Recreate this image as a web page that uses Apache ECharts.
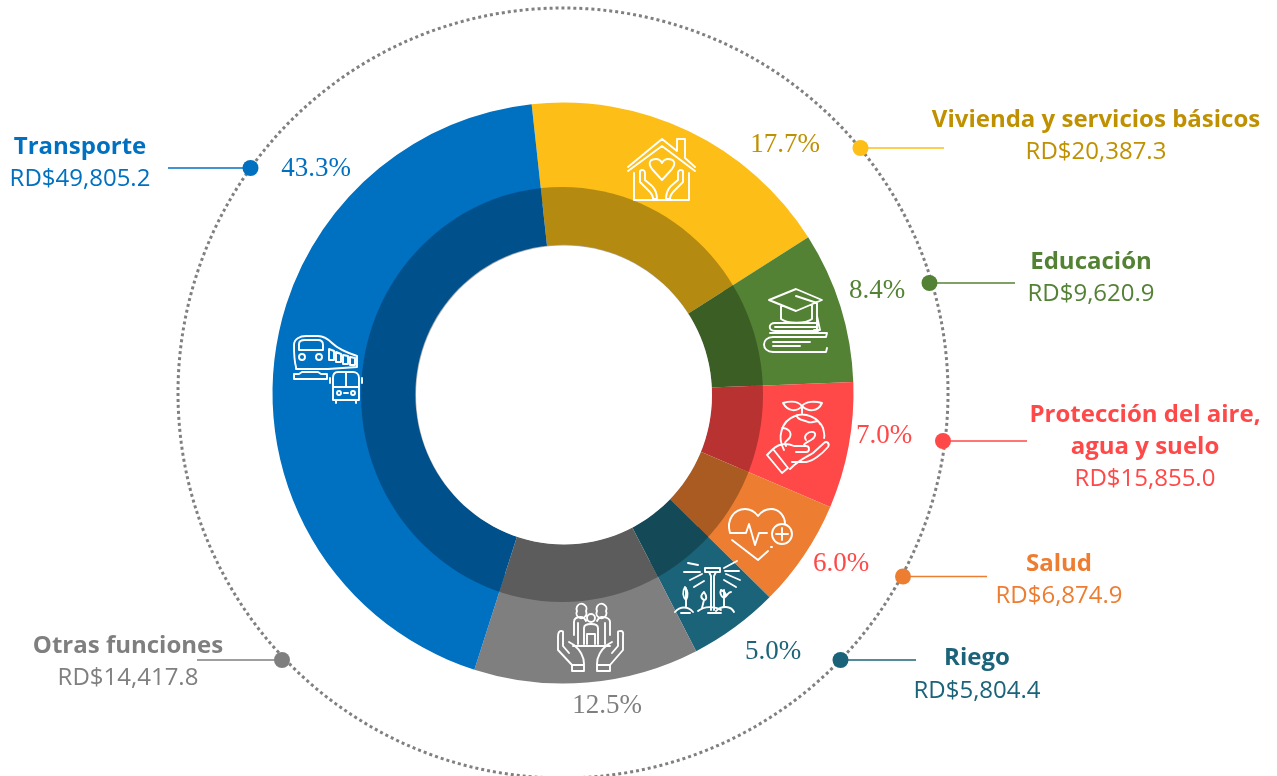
<!DOCTYPE html>
<html>
<head>
<meta charset="utf-8">
<title>Gasto por función</title>
<style>
html,body{margin:0;padding:0;background:#fff;}
#chart{width:1277px;height:776px;}
</style>
<script src="https://cdn.jsdelivr.net/npm/echarts@6/dist/echarts.min.js"></script>
</head>
<body>
<div id="chart"></div>
<script>
// datos, en el orden de las agujas del reloj
var categories = ['Vivienda y servicios básicos', 'Educación', 'Protección del aire,\nagua y suelo', 'Salud', 'Riego', 'Otras funciones', 'Transporte'];
var shares = [17.7, 8.4, 7.0, 6.0, 5.0, 12.5, 43.3];
var amounts = [20387.3, 9620.9, 15855.0, 6874.9, 5804.4, 14417.8, 49805.2];

var sliceColors = ['#FDBE18', '#548235', '#FF4848', '#ED7D31', '#1B6379', '#7F7F7F', '#0070C0'];
var innerColors = ['#B58A10', '#3B5E25', '#B83232', '#AA5B22', '#144957', '#5C5C5C', '#00508C'];
var textColors = ['#BF9000', '#548235', '#FF4848', '#ED7D31', '#1B6379', '#7F7F7F', '#0070C0'];
var shareColors = ['#BF9000', '#548235', '#FF4848', '#FF4848', '#1B6379', '#7F7F7F', '#0070C0'];

var cx = 563, cy = 393, startDeg = 96.2;

// posiciones de los textos y lineas guia
var sharePos = [[785, 145], [877, 291], [884, 436], [841, 564], [773, 652], [607, 706], [316, 169]];
var namePos = [[1096, 120], [1091, 262], [1145, 431], [1059, 564], [977, 658], [128, 646], [80, 147]];
var amountPos = [[1096, 152], [1091, 294], [1145, 479], [1059, 596], [977, 691], [128, 678], [80, 179]];
var leaders = [[861, 944, 148, 860.5], [930, 1015, 283, 929.5], [943, 1027, 441, 943], [903, 987, 576.5, 903], [841, 916, 660, 840.5], [197, 282, 660, 282], [168, 251, 168, 250.5]];

// iconos de linea, coordenadas de pagina
var icons = [
    // casa con manos
    'M628 167L662 139L677 151V139H685V158L695 167M628 171L662 146L695 171M634 173V200H689V173' +
    'M662 180L652 169C647 162 651 159 656 159C659 159 661 161 662 163C663 161 665 159 668 159C673 159 677 162 672 169Z' +
    'M640 171C642 169 645 170 645 173V180L652 186C656 190 657 193 657 199H653C653 195 651 193 649 191L640 182ZM683 171C681 169 678 170 678 173V180L671 186C667 190 666 193 666 199H670C670 195 672 193 674 191L683 182Z',
    // birrete y libros
    'M769 300L796 289L822 300L796 311ZM781 305V319C788 324 805 324 812 319V305M796 296L817 303V316M817 316V330M814 330H820L817 316' +
    'M818 323H775C768 323 768 331 775 331H818M775 327H816M770 333H827L826 337H773C761 337 761 352 773 352H826L827 348M773 342H810M773 346H800',
    // mano y planeta
    'M802 413V406M802 406C798 401 790 401 783 403C788 412 797 412 802 406ZM802 406C806 401 815 401 822 403C818 412 808 412 802 406' +
    'M784 450C777 438 781 421 795 416C805 412 818 417 823 428C824 432 825 436 824 438M797 415C796 420 805 420 808 422C813 424 818 418 820 424' +
    'M782 428C788 428 792 432 790 437C788 441 783 441 786 446M806 440C803 436 808 431 813 432C817 433 815 438 811 440C806 443 803 444 804 446' +
    'M767 455L773 449L788 468L782 473ZM772 450C779 443 787 443 794 446H806C810 446 810 452 806 452H796M790 469C800 459 807 457 813 453L824 443C827 440 830 444 828 447C822 454 813 461 806 462H792',
    // corazon con pulso
    'M730 533C726 520 734 509 745 509C751 509 755 512 758 516C761 512 765 509 771 509C779 509 785 516 785 524M732 540L758 560L768 551' +
    'M730 533H746L749 524L755 545L759 533H767M772 534A10 10 0 1 0 792 534A10 10 0 1 0 772 534M782 528V540M776 534H788M771 547H772',
    // aspersor y plantas
    'M705 568H720V572H705ZM709 572L711 576V610M714 576V610M716 572L714 576' +
    'M688 563L698 565M684 572H700M690 580L702 574M694 587L704 581M737 561L724 568M739 571H725M740 580L726 574M736 587L724 580' +
    'M675 612C680 606 688 606 693 612M698 611C704 606 715 606 721 610M716 611C722 605 731 606 734 612M686 607V588M686 600C683 597 682 592 685 587C688 591 688 596 686 600M702 608L704 600C699 597 702 594 704 592C707 596 707 600 704 600M724 607V590M724 598C720 596 720 592 721 590C726 592 727 595 724 598M724 598C728 595 728 592 731 592M681 613H690M708 613H721',
    // familia y manos
    'M577 611A5 5 0 1 0 586 611A5 5 0 1 0 577 611M597 611A5 5 0 1 0 606 611A5 5 0 1 0 597 611M587 618A4 4 0 1 0 595 618A4 4 0 1 0 587 618' +
    'M574 635V622C574 618 578 617 581 617C584 617 585 619 586 621M610 635V622C610 618 605 617 602 617C599 617 598 619 597 621M578 623V644M605 623V644' +
    'M584 644V628C584 625 588 624 591 624C595 624 598 625 598 628V644M587 644V634H595V644M573 646H610' +
    'M561 631C558 631 558 635 558 637V650L572 665V671H584V664C584 656 580 650 574 645L569 642M569 653L563 646V632C563 631 561 631 561 631' +
    'M621 631C624 631 623 635 623 637V650L610 665V671H597V664C597 656 601 650 607 645L612 642M612 653L618 646V632C618 631 621 631 621 631M572 665H584M597 665H610',
    // tren y autobus
    'M296 367C294 360 294 352 294 345C294 339 300 336 306 336H318C324 336 328 339 332 343C338 349 348 353 357 356V367L328 369H296Z' +
    'M299 350V344C299 341 302 340 305 340H318C322 340 323 342 323 345V350ZM299 350H323' +
    'M299 357A3 3 0 1 0 305 357A3 3 0 1 0 299 357M316 357A3 3 0 1 0 322 357A3 3 0 1 0 316 357' +
    'M329 349V360H334V351ZM336 352V362H341V354ZM343 355V364H348V356ZM350 357V365H355V358Z' +
    'M294 379V374H299L302 372H318L321 374H327V379Z' +
    'M333 378C333 374 335 372 338 372H353C356 372 359 374 359 378V400H333ZM346 372V387M333 387H359M336 400V403M356 400V403M330 378V383M362 378V383' +
    'M337 393A2 2 0 1 0 341 393A2 2 0 1 0 337 393M351 393A2 2 0 1 0 355 393A2 2 0 1 0 351 393M344 393H348'
];

function money(v) {
    return 'RD$' + v.toLocaleString('en-US', { minimumFractionDigits: 1, maximumFractionDigits: 1 });
}

var total = shares.reduce(function (a, b) { return a + b; }, 0);

// el anillo oscuro no es un circulo exacto: sectores recortados por una elipse
function renderInner(params, api) {
    var before = 0;
    for (var i = 0; i < params.dataIndex; i++) before += shares[i];
    var a0 = -startDeg * Math.PI / 180 + before / total * Math.PI * 2;
    var a1 = a0 + api.value(0) / total * Math.PI * 2;
    return {
        type: 'sector',
        shape: { cx: cx, cy: cy, r: 270, r0: 100, startAngle: a0, endAngle: a1, clockwise: true },
        style: { fill: innerColors[params.dataIndex] },
        clipPath: { type: 'ellipse', shape: { cx: 562, cy: 394.5, rx: 201, ry: 207.5 } }
    };
}

var elements = [];

// circulo punteado exterior
elements.push({
    type: 'circle', z: 1, silent: true,
    shape: { cx: cx, cy: cy, r: 385 },
    style: { fill: null, stroke: '#808080', lineWidth: 3, lineDash: [3, 3] }
});
// hueco central con su borde gris
elements.push({
    type: 'ellipse', z: 50, silent: true,
    shape: { cx: 563.6, cy: 394.5, rx: 148.3, ry: 149.8 },
    style: { fill: '#AAAAAA' }
});
elements.push({
    type: 'ellipse', z: 51, silent: true,
    shape: { cx: 564, cy: 395, rx: 148, ry: 149.5 },
    style: { fill: '#fff' }
});

categories.forEach(function (name, i) {
    var l = leaders[i];
    elements.push({
        type: 'line', z: 60, silent: true,
        shape: { x1: l[0], y1: l[2], x2: l[1], y2: l[2] },
        style: { stroke: sliceColors[i], lineWidth: 1.5 }
    });
    elements.push({
        type: 'circle', z: 61, silent: true,
        shape: { cx: l[3], cy: l[2], r: 8 },
        style: { fill: sliceColors[i] }
    });
    elements.push({
        type: 'text', z: 70, silent: true, x: sharePos[i][0], y: sharePos[i][1],
        style: {
            text: shares[i].toFixed(1) + '%', fill: shareColors[i],
            font: '27px "Liberation Serif"', align: 'center', verticalAlign: 'middle'
        }
    });
    elements.push({
        type: 'text', z: 70, silent: true, x: namePos[i][0], y: namePos[i][1],
        style: {
            text: name, fill: textColors[i], lineHeight: 32,
            font: 'bold 24px "Open Sans"', align: 'center', verticalAlign: 'middle'
        }
    });
    elements.push({
        type: 'text', z: 70, silent: true, x: amountPos[i][0], y: amountPos[i][1],
        style: {
            text: money(amounts[i]), fill: textColors[i],
            font: '24px "Open Sans"', align: 'center', verticalAlign: 'middle'
        }
    });
});

// graphic no tiene tipo path, se registra cada icono como forma propia
icons.forEach(function (d, i) {
    echarts.graphic.registerShape('icon' + i, echarts.graphic.extendPath(d));
    elements.push({
        type: 'icon' + i, z: 80, silent: true,
        style: { fill: null, stroke: '#fff', lineWidth: 1.9, lineJoin: 'round', lineCap: 'round' }
    });
});

var myChart = echarts.init(document.getElementById('chart'));
myChart.setOption({
    animation: false,
    backgroundColor: '#fff',
    graphic: { elements: elements },
    series: [
        {
            type: 'pie',
            center: [cx, cy],
            radius: [190, 290.5],
            startAngle: startDeg,
            silent: true,
            label: { show: false },
            labelLine: { show: false },
            data: categories.map(function (name, i) {
                return { name: name, value: shares[i], itemStyle: { color: sliceColors[i] } };
            })
        },
        {
            type: 'custom',
            coordinateSystem: 'none',
            silent: true,
            z: 3,
            renderItem: renderInner,
            data: shares.map(function (v) { return [v]; })
        }
    ]
});
</script>
</body>
</html>
